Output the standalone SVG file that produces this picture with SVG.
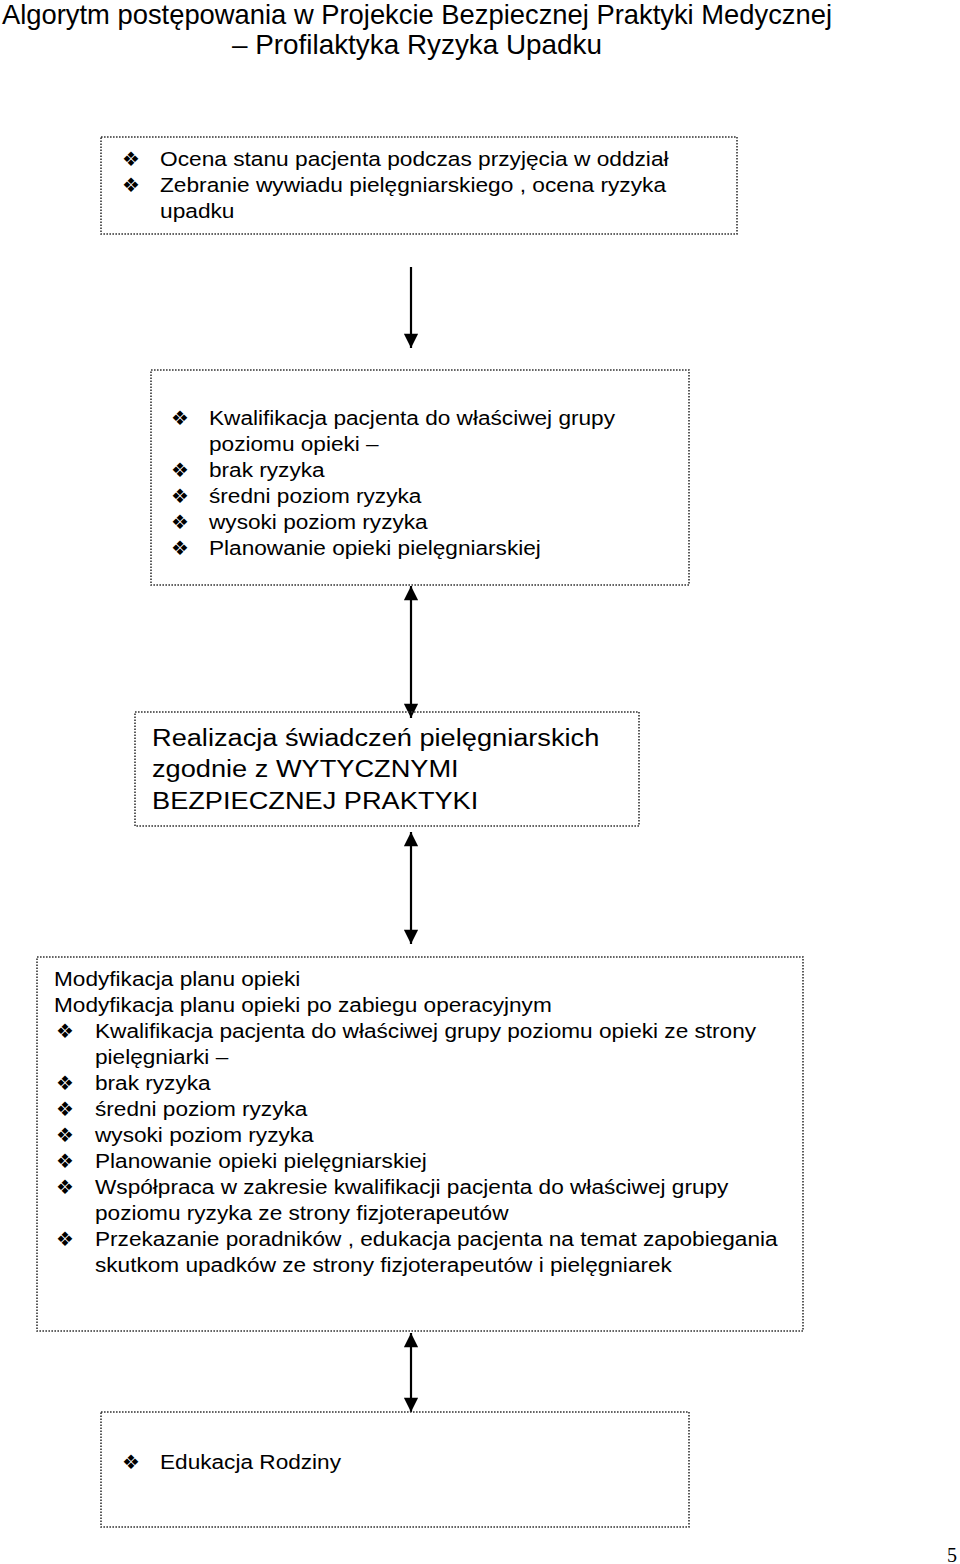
<svg xmlns="http://www.w3.org/2000/svg" width="960" height="1564" viewBox="0 0 960 1564">
<style>
.box{fill:none;stroke:#333;stroke-width:1.6;stroke-dasharray:1.6 1.4}
.t{font-family:"Liberation Sans",Arial,sans-serif;font-size:19.5px;fill:#000}
.t3{font-family:"Liberation Sans",Arial,sans-serif;font-size:24.5px;fill:#000}
.title{font-family:"Liberation Sans",Arial,sans-serif;font-size:28.5px;fill:#000}
.b{font-family:"DejaVu Sans",sans-serif;font-size:20px;fill:#000}
.con{stroke:#000;stroke-width:2.2;fill:none}
</style>
<defs>
<marker id="ah" viewBox="0 0 10 10" refX="10" refY="5" markerWidth="7" markerHeight="6.5" markerUnits="strokeWidth" orient="auto-start-reverse">
<path d="M0,0 L10,5 L0,10 z" fill="#000"/>
</marker>
</defs>
<g id="title">
<text class="title" x="2" y="24" textLength="830" lengthAdjust="spacingAndGlyphs">Algorytm postępowania  w Projekcie Bezpiecznej Praktyki Medycznej</text>
<text class="title" x="232" y="54" textLength="370" lengthAdjust="spacingAndGlyphs">– Profilaktyka  Ryzyka Upadku</text>
</g>
<g id="connectors">
<line class="con" x1="411" y1="267" x2="411" y2="348" marker-end="url(#ah)"/>
<line class="con" x1="411" y1="586" x2="411" y2="718" marker-start="url(#ah)" marker-end="url(#ah)"/>
<line class="con" x1="411" y1="832" x2="411" y2="944" marker-start="url(#ah)" marker-end="url(#ah)"/>
<line class="con" x1="411" y1="1333" x2="411" y2="1412" marker-start="url(#ah)" marker-end="url(#ah)"/>
</g>
<g id="node1">
<rect class="box" x="101" y="137" width="636" height="97"/>
<text class="b" x="122" y="166">❖</text>
<text class="b" x="122" y="192">❖</text>
<g transform="matrix(1.165,0,0,1,160,0)">
<text class="t" x="0" y="166">Ocena stanu pacjenta podczas przyjęcia w oddział</text>
<text class="t" x="0" y="192">Zebranie wywiadu pielęgniarskiego , ocena ryzyka</text>
<text class="t" x="0" y="218">upadku</text>
</g>
</g>
<g id="node2">
<rect class="box" x="151" y="370" width="538" height="215"/>
<text class="b" x="171" y="425">❖</text>
<text class="b" x="171" y="477">❖</text>
<text class="b" x="171" y="503">❖</text>
<text class="b" x="171" y="529">❖</text>
<text class="b" x="171" y="555">❖</text>
<g transform="matrix(1.16,0,0,1,209,0)">
<text class="t" x="0" y="425">Kwalifikacja pacjenta do właściwej grupy</text>
<text class="t" x="0" y="451">poziomu opieki –</text>
<text class="t" x="0" y="477">brak ryzyka</text>
<text class="t" x="0" y="503">średni poziom ryzyka</text>
<text class="t" x="0" y="529">wysoki poziom ryzyka</text>
<text class="t" x="0" y="555">Planowanie opieki pielęgniarskiej</text>
</g>
</g>
<g id="node3">
<rect class="box" x="135" y="712" width="504" height="114"/>
<g transform="matrix(1.11,0,0,1,152,0)">
<text class="t3" x="0" y="746">Realizacja świadczeń pielęgniarskich</text>
<text class="t3" x="0" y="777">zgodnie z WYTYCZNYMI</text>
<text class="t3" x="0" y="809">BEZPIECZNEJ PRAKTYKI</text>
</g>
</g>
<g id="node4">
<rect class="box" x="37" y="957" width="766" height="374"/>
<text class="b" x="56" y="1038">❖</text>
<text class="b" x="56" y="1090">❖</text>
<text class="b" x="56" y="1116">❖</text>
<text class="b" x="56" y="1142">❖</text>
<text class="b" x="56" y="1168">❖</text>
<text class="b" x="56" y="1194">❖</text>
<text class="b" x="56" y="1246">❖</text>
<g transform="matrix(1.16,0,0,1,54,0)">
<text class="t" x="0" y="986">Modyfikacja planu opieki</text>
<text class="t" x="0" y="1012">Modyfikacja planu opieki po zabiegu operacyjnym</text>
</g>
<g transform="matrix(1.16,0,0,1,95,0)">
<text class="t" x="0" y="1038">Kwalifikacja pacjenta do właściwej grupy poziomu opieki ze strony</text>
<text class="t" x="0" y="1064">pielęgniarki  –</text>
<text class="t" x="0" y="1090">brak ryzyka</text>
<text class="t" x="0" y="1116">średni poziom ryzyka</text>
<text class="t" x="0" y="1142">wysoki poziom ryzyka</text>
<text class="t" x="0" y="1168">Planowanie opieki pielęgniarskiej</text>
<text class="t" x="0" y="1194">Współpraca w zakresie kwalifikacji pacjenta do właściwej grupy</text>
<text class="t" x="0" y="1220">poziomu ryzyka ze strony fizjoterapeutów</text>
<text class="t" x="0" y="1246">Przekazanie poradników , edukacja  pacjenta na temat zapobiegania</text>
<text class="t" x="0" y="1272">skutkom upadków ze strony fizjoterapeutów i pielęgniarek</text>
</g>
</g>
<g id="node5">
<rect class="box" x="101" y="1412" width="588" height="115"/>
<text class="b" x="122" y="1469">❖</text>
<g transform="matrix(1.16,0,0,1,160,0)">
<text class="t" x="0" y="1469">Edukacja Rodziny</text>
</g>
</g>
<text x="947" y="1562" style="font-family:'Liberation Serif',serif;font-size:20px">5</text>
</svg>
